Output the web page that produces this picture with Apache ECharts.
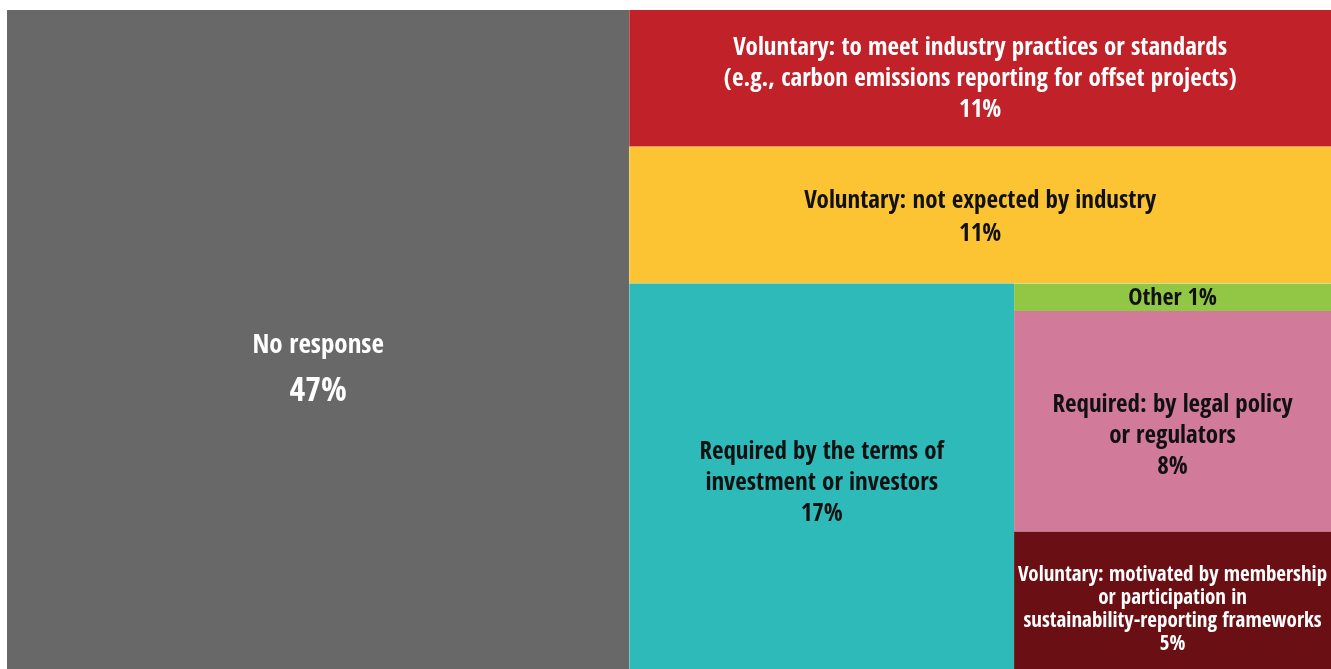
<!DOCTYPE html>
<html>
<head>
<meta charset="utf-8">
<script src="https://cdn.jsdelivr.net/npm/echarts@6/dist/echarts.min.js"></script>
<style>
  html, body { margin: 0; padding: 0; background: #ffffff; }
  #chart { width: 1331px; height: 669px; }
</style>
</head>
<body>
<div id="chart"></div>
<script>
// Survey answers: why the organisation reports its emissions (share of respondents, %)
const categories = [
  'No response',
  'Voluntary: to meet industry practices or standards\n(e.g., carbon emissions reporting for offset projects)',
  'Voluntary: not expected by industry',
  'Required by the terms of\ninvestment or investors',
  'Other',
  'Required: by legal policy\nor regulators',
  'Voluntary: motivated by membership\nor participation in\nsustainability-reporting frameworks'
];
const shares = [47, 11, 11, 17, 1, 8, 5];

// Fill and text colours per category
const fills = ['#686868', '#C1222A', '#FCC433', '#2EBAB9', '#92C746', '#D27A9A', '#6A1014'];
const inks  = ['#ffffff', '#ffffff', '#111111', '#111111', '#111111', '#111111', '#ffffff'];

const FONT = "'Open Sans Condensed', 'Roboto Condensed', 'DejaVu Sans Condensed', sans-serif";

function leaf(i, labelExtra) {
  return {
    name: categories[i],
    value: shares[i],
    itemStyle: { color: fills[i] },
    label: Object.assign({ color: inks[i] }, labelExtra || {})
  };
}

// Nested grouping so the squarified layout stacks the answers in bands
const tree = [
  leaf(0, {
    formatter: p => '{n|' + p.name + '}\n{p|' + p.value + '%}',
    position: ['50%', '46.6%'],
    verticalAlign: 'top',
    offset: [0, 0],
    rich: {
      n: { fontSize: 27, lineHeight: 47, fontWeight: 'bold', fontFamily: FONT, color: '#fff', align: 'center' },
      p: { fontSize: 34, lineHeight: 47, fontWeight: 'bold', fontFamily: FONT, color: '#fff', align: 'center' }
    }
  }),
  {
    name: 'Answered',
    children: [
      leaf(1, { offset: [0, 1] }),
      {
        name: 'Answered, other reasons',
        children: [
          leaf(2, { offset: [0, 3], lineHeight: 33 }),
          {
            name: 'Required and other',
            children: [
              leaf(3, { offset: [0, 7] }),
              {
                name: 'Legal, membership and other',
                children: [
                  {
                    name: 'Legal and other',
                    children: [
                      leaf(4, {
                        formatter: p => p.name + ' ' + p.value + '%',
                        padding: 0,
                        lineHeight: 26,
                        fontSize: 24,
                        offset: [0, 1]
                      }),
                      leaf(5, { offset: [0, 15] })
                    ]
                  },
                  leaf(6, { fontSize: 21, lineHeight: 23, offset: [0, 10] })
                ]
              }
            ]
          }
        ]
      }
    ]
  }
];

const chart = echarts.init(document.getElementById('chart'), null, { renderer: 'canvas' });
chart.setOption({
  animation: false,
  tooltip: { show: false },
  series: [{
    type: 'treemap',
    left: 7, top: 10, right: 0, bottom: 0,
    roam: false,
    nodeClick: false,
    sort: false,
    squareRatio: 1.5,
    breadcrumb: { show: false },
    itemStyle: { borderWidth: 0, gapWidth: 0 },
    upperLabel: { show: false },
    emphasis: { disabled: true },
    label: {
      show: true,
      position: 'inside',
      align: 'center',
      verticalAlign: 'middle',
      overflow: 'none',
      fontFamily: FONT,
      fontWeight: 'bold',
      fontSize: 25,
      lineHeight: 31,
      formatter: p => p.name + '\n' + p.value + '%'
    },
    data: tree
  }]
});
</script>
</body>
</html>
